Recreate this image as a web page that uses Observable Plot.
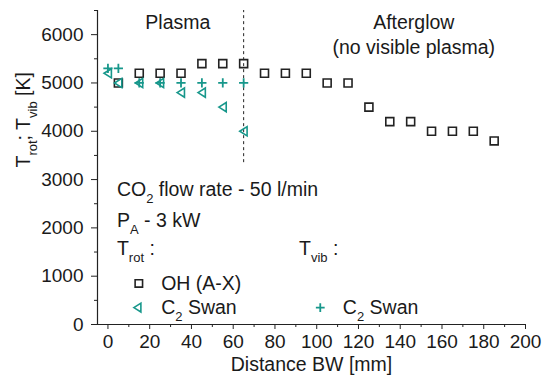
<!DOCTYPE html>
<html>
<head>
<meta charset="utf-8">
<script src="https://cdn.jsdelivr.net/npm/d3@7"></script>
<script src="https://cdn.jsdelivr.net/npm/@observablehq/plot@0.6"></script>
<style>
  html, body { margin: 0; padding: 0; background: white; }
</style>
</head>
<body>
<div id="chart"></div>
<script>
// ---- data ----
const ohDist = [5, 15, 25, 35, 45, 55, 65, 75, 85, 95, 105, 115, 125, 135, 145, 155, 165, 175, 185];
const ohT    = [5000, 5200, 5200, 5200, 5400, 5400, 5400, 5200, 5200, 5200, 5000, 5000, 4500, 4200, 4200, 4000, 4000, 4000, 3800];
const c2RotDist = [0, 5, 15, 25, 35, 45, 55, 65];
const c2RotT    = [5200, 5000, 5000, 5000, 4800, 4800, 4500, 4000];
const c2VibDist = [0, 5, 15, 25, 35, 45, 55, 65];
const c2VibT    = [5300, 5300, 5000, 5000, 5000, 5000, 5000, 5000];

const xTicks = [0, 20, 40, 60, 80, 100, 120, 140, 160, 180, 200];
const xMinor = [10, 30, 50, 70, 90, 110, 130, 150, 170, 190];
const yTicks = [0, 1000, 2000, 3000, 4000, 5000, 6000];
const yMinor = [500, 1500, 2500, 3500, 4500, 5500, 6500];

// annotation texts (positions in data units)
const annotText = ["CO_{2} flow rate - 50 l/min", "P_{A} - 3 kW", "T_{rot} :", "T_{vib} :", "OH (A-X)", "C_{2} Swan", "C_{2} Swan"];
const annotX = [4.3, 4.3, 4.3, 91.5, 25.5, 25.5, 112.5];
const annotY = [2780, 2150, 1560, 1560, 850, 350, 350];
const regionText = ["Plasma", "Afterglow", "(no visible plasma)"];
const regionX = [33.5, 146.5, 146.5];
const regionY = [6250, 6250, 5730];

const legSymX = [14.8, 14.2, 101.7];
const legSymY = [850, 350, 350];

const teal = "#17978b";
const ink = "#222";
const FS = 19.5;

// custom symbols
const leftTriangle = {
  draw(ctx, size) {
    const r = Math.sqrt(size / Math.PI);
    ctx.moveTo(-r * 0.85, 0);
    ctx.lineTo(r * 0.75, -r);
    ctx.lineTo(r * 0.75, r);
    ctx.closePath();
  }
};
const thinPlus = {
  draw(ctx, size) {
    const r = Math.sqrt(size / Math.PI);
    ctx.moveTo(-r, 0); ctx.lineTo(r, 0);
    ctx.moveTo(0, -r); ctx.lineTo(0, r);
  }
};

const oh = ohDist.map((d, i) => ({x: d, y: ohT[i]}));
const rot = c2RotDist.map((d, i) => ({x: d, y: c2RotT[i]}));
const vib = c2VibDist.map((d, i) => ({x: d, y: c2VibT[i]}));
const annots = annotText.map((t, i) => ({t, x: annotX[i], y: annotY[i]}));
const regions = regionText.map((t, i) => ({t, x: regionX[i], y: regionY[i]}));

const chart = Plot.plot({
  width: 544,
  height: 388,
  marginLeft: 97,
  marginRight: 19,
  marginTop: 10,
  marginBottom: 64,
  x: {domain: [-5, 200]},
  y: {domain: [0, 6500]},
  style: {fontFamily: "'Liberation Sans', Arial, sans-serif", fontSize: FS + "px", color: "#1a1a1a", background: "white"},
  marks: [
    Plot.ruleX([-5], {y1: 0, y2: 6500, stroke: ink, strokeWidth: 1.2}),
    Plot.ruleY([0], {x1: -5, x2: 200, stroke: ink, strokeWidth: 1.2}),
    Plot.axisX(xTicks, {tickSize: 5, tickPadding: 5, label: null, fontSize: 19, stroke: ink, tickFormat: d3.format("d")}),
    Plot.axisX(xMinor, {tickSize: 3, tickFormat: () => "", label: null, stroke: ink}),
    Plot.axisY(yTicks, {tickSize: 6, tickPadding: 8, label: null, fontSize: 19, stroke: ink, tickFormat: d3.format("d")}),
    Plot.axisY(yMinor, {tickSize: 3, tickFormat: () => "", label: null, stroke: ink}),
    Plot.ruleX([65], {y1: 3350, y2: 6500, stroke: ink, strokeWidth: 1, strokeDasharray: "3,3"}),
    Plot.dot(oh, {x: "x", y: "y", symbol: "square", r: 4.5, stroke: ink, strokeWidth: 1.6, fill: "none"}),
    Plot.dot(rot, {x: "x", y: "y", symbol: leftTriangle, r: 4.6, stroke: teal, strokeWidth: 1.6, fill: "none"}),
    Plot.dot(vib, {x: "x", y: "y", symbol: thinPlus, r: 4.6, stroke: teal, strokeWidth: 1.8, fill: "none"}),
    // legend symbols
    Plot.dot([0], {x: () => legSymX[0], y: () => legSymY[0], symbol: "square", r: 4.2, stroke: ink, strokeWidth: 1.6, fill: "none"}),
    Plot.dot([0], {x: () => legSymX[1], y: () => legSymY[1], symbol: leftTriangle, r: 4.4, stroke: teal, strokeWidth: 1.6, fill: "none"}),
    Plot.dot([0], {x: () => legSymX[2], y: () => legSymY[2], symbol: thinPlus, r: 4.4, stroke: teal, strokeWidth: 1.8, fill: "none"}),
    Plot.text(annots, {x: "x", y: "y", text: "t", textAnchor: "start", fontSize: FS, fill: "#1a1a1a"}),
    Plot.text(regions, {x: "x", y: "y", text: "t", textAnchor: "middle", fontSize: FS, fill: "#1a1a1a"}),
    Plot.text(["Distance BW [mm]"], {frameAnchor: "bottom", dy: 46, fontSize: FS, fill: "#1a1a1a"}),
    Plot.text(["T_{rot}; T_{vib} [K]"], {frameAnchor: "left", dx: -74, dy: 0, rotate: -90, fontSize: FS, fill: "#1a1a1a"})
  ]
});

// render _{...} as subscripts
d3.select(chart).selectAll("text").each(function() {
  const el = this;
  const s = el.textContent;
  if (!s.includes("_{")) return;
  const parts = s.split(/(_\{[^}]*\})/).filter(p => p.length);
  while (el.firstChild) el.removeChild(el.firstChild);
  let shifted = false;
  for (const p of parts) {
    const ts = document.createElementNS("http://www.w3.org/2000/svg", "tspan");
    if (p.startsWith("_{")) {
      ts.textContent = p.slice(2, -1);
      ts.setAttribute("font-size", "13");
      ts.setAttribute("dy", "7");
      shifted = true;
    } else {
      ts.textContent = p;
      if (shifted) { ts.setAttribute("dy", "-7"); shifted = false; }
    }
    el.appendChild(ts);
  }
});

document.getElementById("chart").appendChild(chart);
</script>
</body>
</html>
